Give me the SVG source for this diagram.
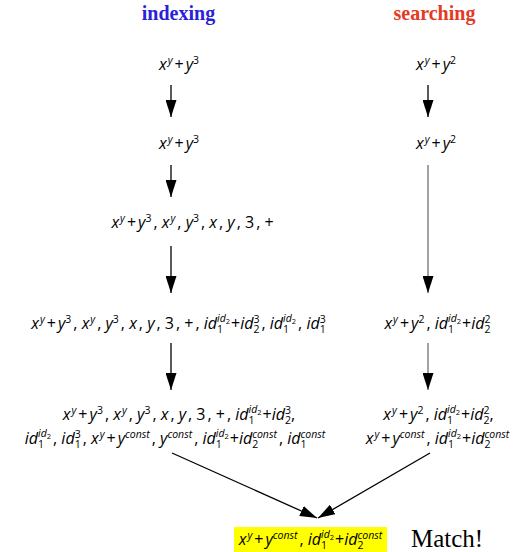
<svg xmlns="http://www.w3.org/2000/svg" width="521" height="552" viewBox="0 0 521 552">
<style>
.h{font-family:"Liberation Serif","Times New Roman",serif;font-size:20px;font-weight:bold;text-anchor:middle}
.m{font-family:"Open Sans","DejaVu Sans",sans-serif;font-size:16px;font-style:italic;text-anchor:middle;fill:#000}
.u{font-style:normal}
.s{font-size:10.5px}
.t{font-size:7.5px}
.c{stroke:#000;stroke-width:1.3;fill:none;marker-end:url(#ah)}
.g{stroke:#707070}
</style>
<defs>
<marker id="ah" markerUnits="userSpaceOnUse" markerWidth="17" markerHeight="11" refX="17" refY="5.5" orient="auto"><path d="M0,0 L17,5.5 L0,11 z" fill="#000"/></marker>
</defs>
<rect x="0" y="0" width="521" height="552" fill="#fff"/>
<g id="title-indexing"><text class="h" x="178.5" y="20" fill="#2b1fd8">indexing</text></g>
<g id="title-searching"><text class="h" x="434.5" y="20" fill="#e53a1f">searching</text></g>

<g id="i1"><text class="m" x="179" y="70"><tspan>x</tspan><tspan class="s" dx="1" dy="-6">y</tspan><tspan class="u" dy="6" dx="2">+</tspan><tspan dx="2">y</tspan><tspan class="s u" dy="-6">3</tspan></text></g>
<g id="s1"><text class="m" x="436" y="70"><tspan>x</tspan><tspan class="s" dx="1" dy="-6">y</tspan><tspan class="u" dy="6" dx="2">+</tspan><tspan dx="2">y</tspan><tspan class="s u" dy="-6">2</tspan></text></g>
<g id="i2"><text class="m" x="179" y="149"><tspan>x</tspan><tspan class="s" dx="1" dy="-6">y</tspan><tspan class="u" dy="6" dx="2">+</tspan><tspan dx="2">y</tspan><tspan class="s u" dy="-6">3</tspan></text></g>
<g id="s2"><text class="m" x="436" y="149"><tspan>x</tspan><tspan class="s" dx="1" dy="-6">y</tspan><tspan class="u" dy="6" dx="2">+</tspan><tspan dx="2">y</tspan><tspan class="s u" dy="-6">2</tspan></text></g>

<g id="i3"><text class="m" x="192.5" y="228"><tspan>x</tspan><tspan class="s" dx="1" dy="-6">y</tspan><tspan class="u" dy="6" dx="2">+</tspan><tspan dx="2">y</tspan><tspan class="s u" dy="-6">3</tspan><tspan class="u" dx="2" dy="6">, </tspan><tspan>x</tspan><tspan class="s" dx="1" dy="-6">y</tspan><tspan class="u" dx="2" dy="6">, </tspan><tspan>y</tspan><tspan class="s u" dy="-6">3</tspan><tspan class="u" dx="2" dy="6">, </tspan><tspan>x</tspan><tspan class="u" dx="2">, </tspan><tspan>y</tspan><tspan class="u" dx="2">, </tspan><tspan class="u">3</tspan><tspan class="u" dx="2">, +</tspan></text></g>

<g id="i4"><text class="m" x="178.5" y="329"><tspan>x</tspan><tspan class="s" dx="1" dy="-6">y</tspan><tspan class="u" dy="6" dx="2">+</tspan><tspan dx="2">y</tspan><tspan class="s u" dy="-6">3</tspan><tspan class="u" dx="2" dy="6">, </tspan><tspan>x</tspan><tspan class="s" dx="1" dy="-6">y</tspan><tspan class="u" dx="2" dy="6">, </tspan><tspan>y</tspan><tspan class="s u" dy="-6">3</tspan><tspan class="u" dx="2" dy="6">, </tspan><tspan>x</tspan><tspan class="u" dx="2">, </tspan><tspan>y</tspan><tspan class="u" dx="2">, </tspan><tspan class="u">3</tspan><tspan class="u" dx="2">, +</tspan><tspan class="u" dx="2">, </tspan><tspan>id</tspan><tspan class="s u" dy="4">1</tspan><tspan class="s" dx="-6" dy="-11">id</tspan><tspan class="t u" dy="2">2</tspan><tspan class="u" dx="1" dy="5">+</tspan><tspan>id</tspan><tspan class="s u" dy="4">2</tspan><tspan class="s u" dx="-6" dy="-10">3</tspan><tspan class="u" dx="2" dy="6">, </tspan><tspan>id</tspan><tspan class="s u" dy="4">1</tspan><tspan class="s" dx="-6" dy="-11">id</tspan><tspan class="t u" dy="2">2</tspan><tspan class="u" dx="2" dy="5">, </tspan><tspan>id</tspan><tspan class="s u" dy="4">1</tspan><tspan class="s u" dx="-6" dy="-10">3</tspan></text></g>

<g id="s4"><text class="m" x="437.5" y="329"><tspan>x</tspan><tspan class="s" dx="1" dy="-6">y</tspan><tspan class="u" dy="6" dx="2">+</tspan><tspan dx="2">y</tspan><tspan class="s u" dy="-6">2</tspan><tspan class="u" dx="2" dy="6">, </tspan><tspan>id</tspan><tspan class="s u" dy="4">1</tspan><tspan class="s" dx="-6" dy="-11">id</tspan><tspan class="t u" dy="2">2</tspan><tspan class="u" dx="1" dy="5">+</tspan><tspan>id</tspan><tspan class="s u" dy="4">2</tspan><tspan class="s u" dx="-6" dy="-10">2</tspan></text></g>

<g id="i5">
<text class="m" x="179" y="420"><tspan>x</tspan><tspan class="s" dx="1" dy="-6">y</tspan><tspan class="u" dy="6" dx="2">+</tspan><tspan dx="2">y</tspan><tspan class="s u" dy="-6">3</tspan><tspan class="u" dx="2" dy="6">, </tspan><tspan>x</tspan><tspan class="s" dx="1" dy="-6">y</tspan><tspan class="u" dx="2" dy="6">, </tspan><tspan>y</tspan><tspan class="s u" dy="-6">3</tspan><tspan class="u" dx="2" dy="6">, </tspan><tspan>x</tspan><tspan class="u" dx="2">, </tspan><tspan>y</tspan><tspan class="u" dx="2">, </tspan><tspan class="u">3</tspan><tspan class="u" dx="2">, +</tspan><tspan class="u" dx="2">, </tspan><tspan>id</tspan><tspan class="s u" dy="4">1</tspan><tspan class="s" dx="-6" dy="-11">id</tspan><tspan class="t u" dy="2">2</tspan><tspan class="u" dx="1" dy="5">+</tspan><tspan>id</tspan><tspan class="s u" dy="4">2</tspan><tspan class="s u" dx="-6" dy="-10">3</tspan><tspan class="u" dy="6">,</tspan></text>
<text class="m" x="175" y="444"><tspan>id</tspan><tspan class="s u" dy="4">1</tspan><tspan class="s" dx="-6" dy="-11">id</tspan><tspan class="t u" dy="2">2</tspan><tspan class="u" dx="2" dy="5">, </tspan><tspan>id</tspan><tspan class="s u" dy="4">1</tspan><tspan class="s u" dx="-6" dy="-10">3</tspan><tspan class="u" dx="2" dy="6">, </tspan><tspan>x</tspan><tspan class="s" dx="1" dy="-6">y</tspan><tspan class="u" dy="6" dx="2">+</tspan><tspan dx="2">y</tspan><tspan class="s" dy="-6">const</tspan><tspan class="u" dx="2" dy="6">, </tspan><tspan>y</tspan><tspan class="s" dy="-6">const</tspan><tspan class="u" dx="2" dy="6">, </tspan><tspan>id</tspan><tspan class="s u" dy="4">1</tspan><tspan class="s" dx="-6" dy="-11">id</tspan><tspan class="t u" dy="2">2</tspan><tspan class="u" dx="1" dy="5">+</tspan><tspan>id</tspan><tspan class="s u" dy="4">2</tspan><tspan class="s" dx="-6" dy="-10">const</tspan><tspan class="u" dx="2" dy="6">, </tspan><tspan>id</tspan><tspan class="s u" dy="4">1</tspan><tspan class="s" dx="-6" dy="-10">const</tspan></text>
</g>

<g id="s5">
<text class="m" x="438.5" y="420"><tspan>x</tspan><tspan class="s" dx="1" dy="-6">y</tspan><tspan class="u" dy="6" dx="2">+</tspan><tspan dx="2">y</tspan><tspan class="s u" dy="-6">2</tspan><tspan class="u" dx="2" dy="6">, </tspan><tspan>id</tspan><tspan class="s u" dy="4">1</tspan><tspan class="s" dx="-6" dy="-11">id</tspan><tspan class="t u" dy="2">2</tspan><tspan class="u" dx="1" dy="5">+</tspan><tspan>id</tspan><tspan class="s u" dy="4">2</tspan><tspan class="s u" dx="-6" dy="-10">2</tspan><tspan class="u" dy="6">,</tspan></text>
<text class="m" x="437.5" y="444"><tspan>x</tspan><tspan class="s" dx="1" dy="-6">y</tspan><tspan class="u" dy="6" dx="2">+</tspan><tspan dx="2">y</tspan><tspan class="s" dy="-6">const</tspan><tspan class="u" dx="2" dy="6">, </tspan><tspan>id</tspan><tspan class="s u" dy="4">1</tspan><tspan class="s" dx="-6" dy="-11">id</tspan><tspan class="t u" dy="2">2</tspan><tspan class="u" dx="1" dy="5">+</tspan><tspan>id</tspan><tspan class="s u" dy="4">2</tspan><tspan class="s" dx="-6" dy="-10">const</tspan></text>
</g>

<g id="match">
<rect x="234" y="527" width="153" height="25" fill="#ffff00"/>
<text class="m" x="310.5" y="545"><tspan>x</tspan><tspan class="s" dx="1" dy="-6">y</tspan><tspan class="u" dy="6" dx="2">+</tspan><tspan dx="2">y</tspan><tspan class="s" dy="-6">const</tspan><tspan class="u" dx="2" dy="6">, </tspan><tspan>id</tspan><tspan class="s u" dy="4">1</tspan><tspan class="s" dx="-6" dy="-11">id</tspan><tspan class="t u" dy="2">2</tspan><tspan class="u" dx="1" dy="5">+</tspan><tspan>id</tspan><tspan class="s u" dy="4">2</tspan><tspan class="s" dx="-6" dy="-10">const</tspan></text>
</g>
<g id="match-label"><text x="411" y="547" font-family="Liberation Serif, Times New Roman, serif" font-size="25">Match!</text></g>

<g id="connectors">
<line class="c" x1="171" y1="85" x2="171" y2="117"/>
<line class="c" x1="428" y1="85" x2="428" y2="117"/>
<line class="c" x1="171" y1="165" x2="171" y2="197"/>
<line class="c g" x1="428" y1="165" x2="428" y2="293"/>
<line class="c" x1="171" y1="246" x2="171" y2="293"/>
<line class="c" x1="171" y1="343" x2="171" y2="390"/>
<line class="c g" x1="428" y1="343" x2="428" y2="390"/>
<line class="c" x1="172" y1="453" x2="317" y2="518"/>
<line class="c" x1="430" y1="453" x2="318" y2="518"/>
</g>
</svg>
